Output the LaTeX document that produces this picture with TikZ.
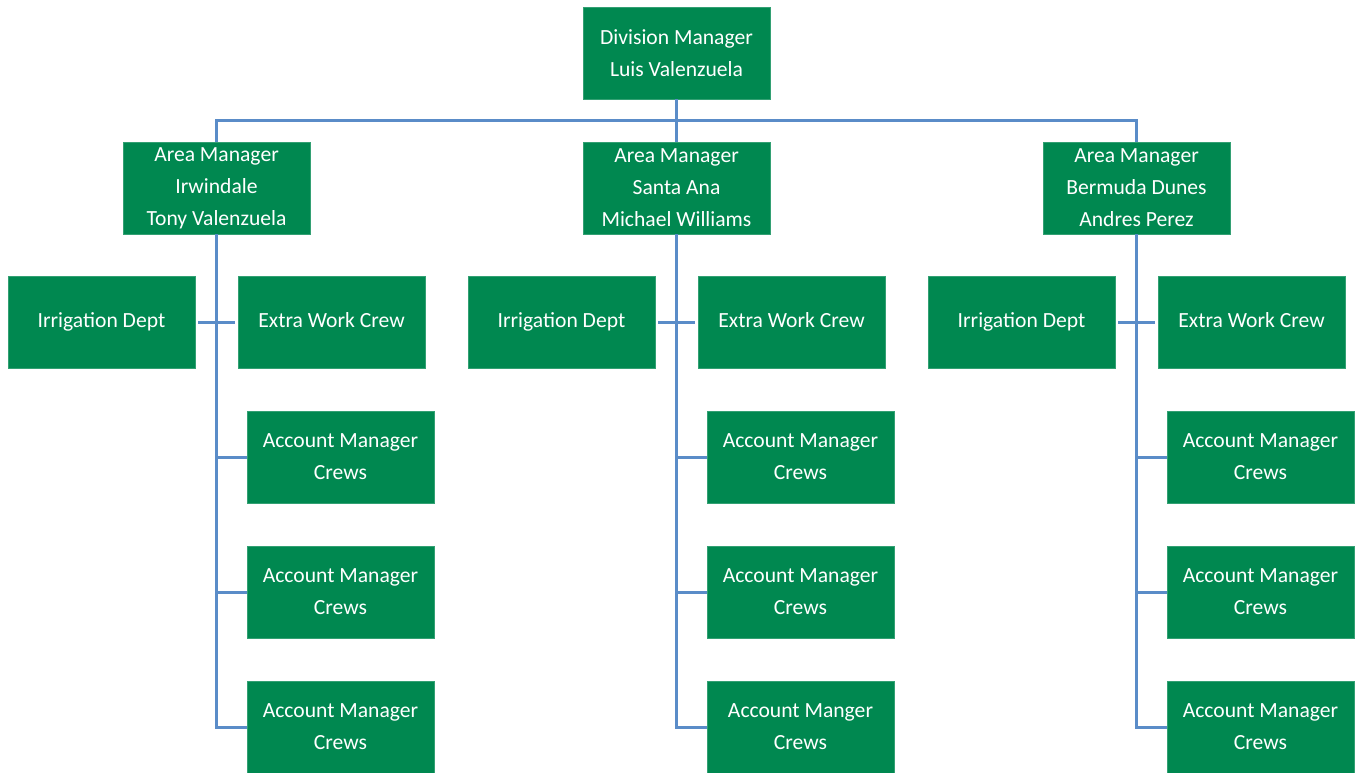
\documentclass[tikz,border=0pt]{standalone}
\usepackage{fontspec}
\setmainfont{Carlito}
\definecolor{boxgreen}{RGB}{0,136,80}
\definecolor{linkblue}{RGB}{90,140,200}
\begin{document}
\begin{tikzpicture}[x=1pt,y=-1pt,
  orgbox/.style={fill=boxgreen,draw=boxgreen!80!white,line width=0.6pt,text=white,minimum width=187pt,minimum height=92pt,inner sep=0pt,align=center,font=\fontsize{21.6}{32}\selectfont},
  onebox/.style={orgbox,execute at begin node={\vphantom{Ag}}},
  link/.style={draw=linkblue,line width=3pt}]
\useasboundingbox (0,0) rectangle (1355,773);
% top
\node[orgbox] (div) at (676.5,53) {Division Manager\\Luis Valenzuela};
\node[orgbox] (amL) at (216.5,188) {Area Manager\\Irwindale\\Tony Valenzuela};
\node[orgbox] (amC) at (676.5,188) {Area Manager\\Santa Ana\\Michael Williams};
\node[orgbox] (amR) at (1136.5,188) {Area Manager\\Bermuda Dunes\\Andres Perez};
% left group
\node[onebox] (irL) at (101.5,322) {Irrigation Dept};
\node[onebox] (exL) at (331.5,322) {Extra Work Crew};
\node[orgbox] (a1L) at (340.5,457) {Account Manager\\Crews};
\node[orgbox] (a2L) at (340.5,592) {Account Manager\\Crews};
\node[orgbox] (a3L) at (340.5,727) {Account Manager\\Crews};
% center group
\node[onebox] (irC) at (561.5,322) {Irrigation Dept};
\node[onebox] (exC) at (791.5,322) {Extra Work Crew};
\node[orgbox] (a1C) at (800.5,457) {Account Manager\\Crews};
\node[orgbox] (a2C) at (800.5,592) {Account Manager\\Crews};
\node[orgbox] (a3C) at (800.5,727) {Account Manger\\Crews};
% right group
\node[onebox] (irR) at (1021.5,322) {Irrigation Dept};
\node[onebox] (exR) at (1251.5,322) {Extra Work Crew};
\node[orgbox] (a1R) at (1260.5,457) {Account Manager\\Crews};
\node[orgbox] (a2R) at (1260.5,592) {Account Manager\\Crews};
\node[orgbox] (a3R) at (1260.5,727) {Account Manager\\Crews};
% connectors
\coordinate (bus) at (676.5,121);
\draw[link] (div.south) -- (bus);
\draw[link] (amL.north) -- (amL.north |- bus) -- (amR.north |- bus) -- (amR.north);
\draw[link] (amC.north) -- (amC.north |- bus);
\foreach \g in {L,C,R}{
  \draw[link] (am\g.south) -- (am\g.south |- a3\g.west) -- (a3\g.west);
  \draw[link] (am\g.south |- a1\g.west) -- (a1\g.west);
  \draw[link] (am\g.south |- a2\g.west) -- (a2\g.west);
  \draw[link,shorten <=3pt,shorten >=3pt] (ir\g.east) -- (ex\g.west);
}
\end{tikzpicture}
\end{document}
